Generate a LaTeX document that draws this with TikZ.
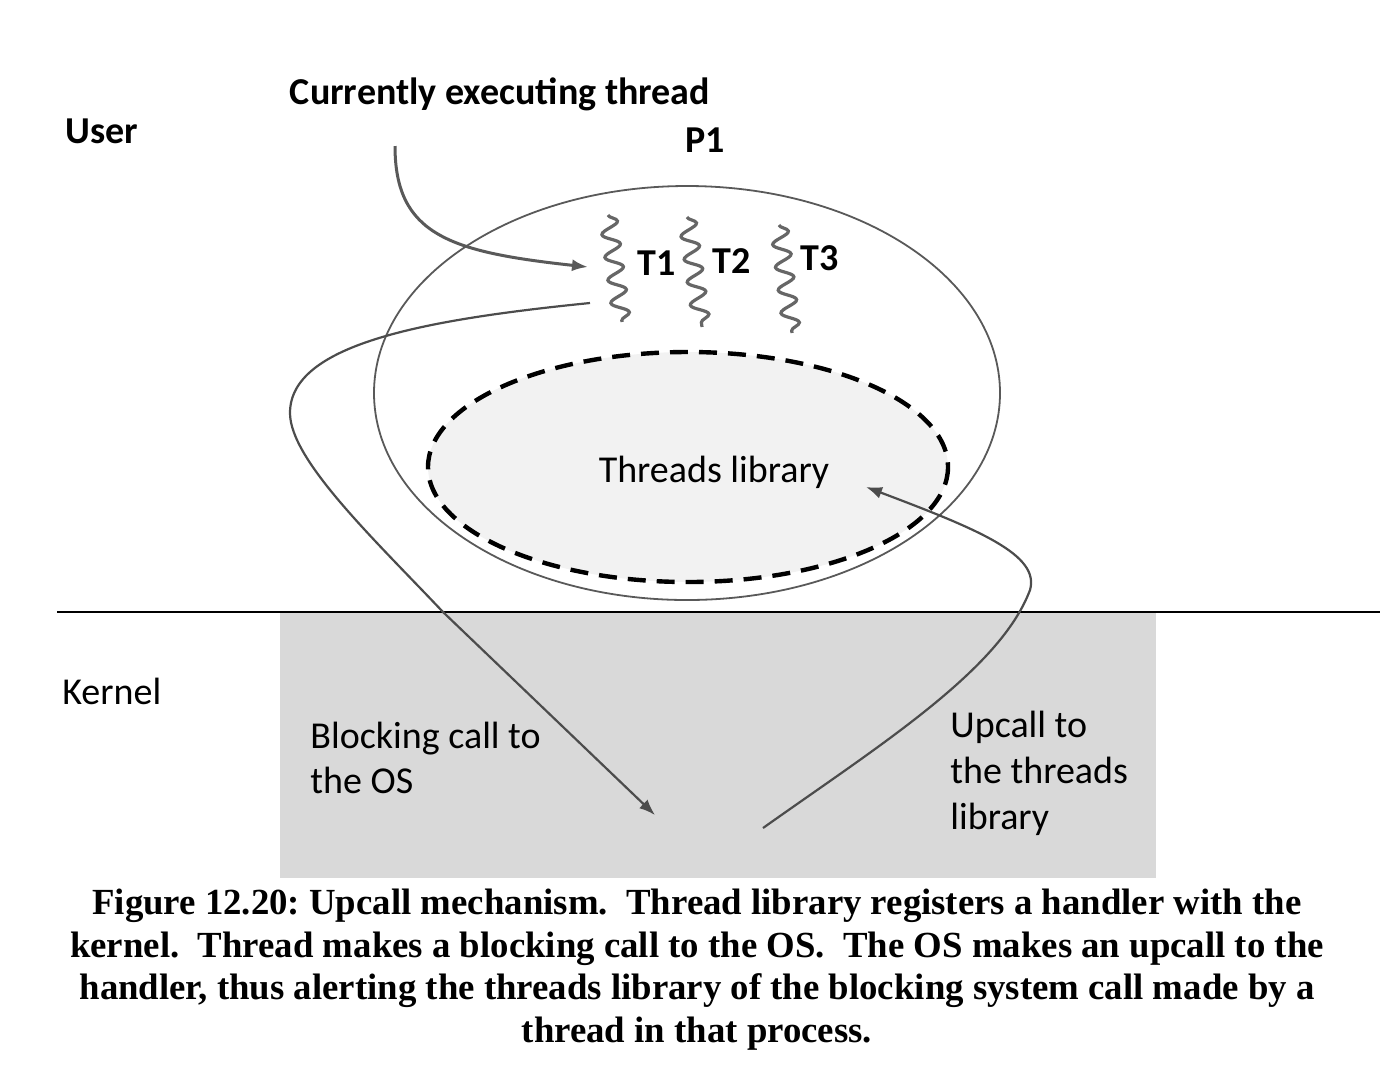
\documentclass[tikz,border=0pt]{standalone}
\usepackage{fontspec}
\setmainfont{Carlito}
\newfontfamily\capfont{Liberation Serif}
\usetikzlibrary{arrows.meta,decorations.pathmorphing}
\begin{document}
\frenchspacing
\begin{tikzpicture}[x=0.5pt,y=-0.5pt,
  lbl/.style={inner sep=0pt, font=\fontsize{19}{23}\selectfont},
  blbl/.style={lbl, font=\fontsize{19}{23}\selectfont\bfseries},
  thr/.style={draw=black!60, line width=1.6pt, decorate,
    decoration={snake, amplitude=4.3pt, segment length=11.5pt}},
  conn/.style={draw=black!70, line width=1.1pt,
    -{Latex[length=8pt,width=6pt]}}]
\useasboundingbox (0,0) rectangle (1380,1078);

% kernel area
\fill[black!15] (280,613) rectangle (1156,878);
\draw[line width=0.6pt] (57,612) -- (1380,612);

% process P1
\draw[black!65, line width=0.9pt] (687,393) ellipse [x radius=313, y radius=207];
\draw[fill=black!5, line width=2.2pt, dash pattern=on 9pt off 5.5pt]
  (688,467) ellipse [x radius=260, y radius=115];
\node[lbl, anchor=base] (lib) at (714,482) {Threads library};

% threads
\draw[thr] (608,215) -- (622,322);
\draw[thr] (687,217) -- (702,327);
\draw[thr] (779,225) -- (792,333);
\node[blbl, anchor=base west] (t1) at (637,275) {T1};
\node[blbl, anchor=base west] (t2) at (712,273) {T2};
\node[blbl, anchor=base west] (t3) at (800,270) {T3};

% labels
\node[blbl, anchor=base west] (user) at (65,143) {User};
\node[lbl, anchor=base west] (kernel) at (62,704) {Kernel};
\node[blbl, anchor=base] (cur) at (500,104) {Currently executing thread};
\node[blbl, anchor=base] (p1) at (705,152) {P1};
\node[lbl, anchor=base west] (blk1) at (310,748) {Blocking call to};
\node[lbl, anchor=base west] (blk2) at (310,793) {the OS};
\node[lbl, anchor=base west] (up1) at (950,737) {Upcall to};
\node[lbl, anchor=base west] (up2) at (950,783) {the threads};
\node[lbl, anchor=base west] (up3) at (950,829) {library};

% connector coordinates
\coordinate (c1s) at (395,146);
\coordinate (c1e) at (588,267);
\coordinate (c2s) at (590,303);
\coordinate (c2e) at (655,815);
\coordinate (c3s) at (763,828);
\coordinate (c3e) at (866,487);

\draw[conn, line width=1.5pt, draw=black!65] (c1s) .. controls (395,235) and (450,252) .. (c1e);
\draw[conn] (c2s) .. controls (420,320) and (290,345) .. (290,413)
  .. controls (290,460) and (375,540) .. (443,612) -- (c2e);
\draw[conn] (c3s) .. controls (880,745) and (1000,670) .. (1030,590)
  .. controls (1040,555) and (980,530) .. (c3e);

% caption
\node[inner sep=0pt, anchor=north, align=center,
  font=\capfont\bfseries\fontsize{18.4}{21.25}\selectfont] (cap) at (697,889)
  {Figure 12.20: Upcall mechanism.\ \ Thread library registers a handler with the\\
   kernel.\ \ Thread makes a blocking call to the OS.\ \ The OS makes an upcall to the\\
   handler, thus alerting the threads library of the blocking system call made by a\\
   thread in that process.};
\end{tikzpicture}
\end{document}
